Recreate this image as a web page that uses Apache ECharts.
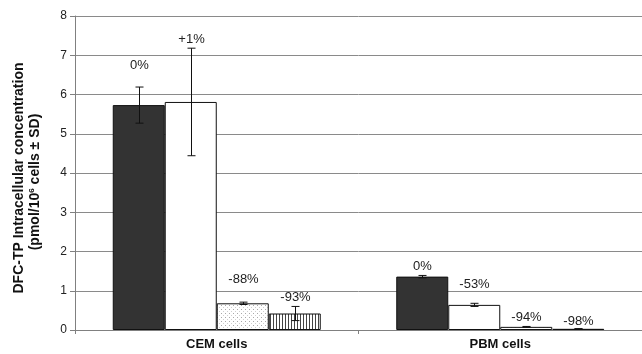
<!DOCTYPE html>
<html>
<head>
<meta charset="utf-8">
<script src="https://cdn.jsdelivr.net/npm/echarts@6/dist/echarts.min.js"></script>
<style>
  html, body { margin: 0; padding: 0; background: #fff; }
  #chart { width: 642px; height: 354px; }
</style>
</head>
<body>
<div id="chart"></div>
<script>
// Cell lines on the x axis
const categories = ['CEM cells', 'PBM cells'];

// Mean DFC-TP concentration (pmol/10^6 cells) for the four conditions
const meanSolid = [5.73, 1.36];
const meanOpen = [5.81, 0.64];
const meanDotted = [0.68, 0.08];
const meanStriped = [0.42, 0.03];

// Standard deviations
const sdSolid = [0.46, 0.03];
const sdOpen = [1.37, 0.04];
const sdDotted = [0.03, 0.01];
const sdStriped = [0.18, 0.005];

// Percent change relative to the solid bar in each cell line
const changeSolid = ['0%', '0%'];
const changeOpen = ['+1%', '-53%'];
const changeDotted = ['-88%', '-94%'];
const changeStriped = ['-93%', '-98%'];

// Y axis ticks
const yTicks = [0, 1, 2, 3, 4, 5, 6, 7, 8];

// ---- drawing ----
const BAR_W = 52;
const FONT = 'Liberation Sans, Arial, sans-serif';

function pattern(kind) {
  const c = document.createElement('canvas');
  if (kind === 'dots') {
    c.width = 4; c.height = 4;
    const g = c.getContext('2d');
    g.fillStyle = '#ffffff'; g.fillRect(0, 0, 4, 4);
    g.fillStyle = '#a8a8a8'; g.fillRect(1, 1, 1, 1);
    g.fillStyle = '#d0d0d0'; g.fillRect(3, 3, 1, 1);
  } else {
    c.width = 3; c.height = 3;
    const g = c.getContext('2d');
    g.fillStyle = '#ffffff'; g.fillRect(0, 0, 3, 3);
    g.fillStyle = '#444444'; g.fillRect(0, 0, 1, 3);
  }
  return { image: c, repeat: 'repeat' };
}

const groups = [
  { mean: meanSolid, sd: sdSolid, label: changeSolid, fill: '#333333', gap: [22, 9] },
  { mean: meanOpen, sd: sdOpen, label: changeOpen, fill: '#ffffff', gap: [9, 19] },
  { mean: meanDotted, sd: sdDotted, label: changeDotted, fill: pattern('dots'), gap: [23, 9] },
  { mean: meanStriped, sd: sdStriped, label: changeStriped, fill: pattern('stripes'), gap: [9, 7] }
];

const barSeries = groups.map(function (gr) {
  return {
    type: 'bar',
    data: gr.mean,
    barWidth: BAR_W,
    barGap: '0%',
    itemStyle: { color: gr.fill, borderColor: '#111', borderWidth: 1 },
    emphasis: { disabled: true },
    silent: true,
    z: 2
  };
});

// error bars and percent labels
const errData = [];
groups.forEach(function (gr, gi) {
  gr.mean.forEach(function (m, ci) {
    errData.push([ci, m, gr.sd[ci], gi, gr.label[ci], gr.gap[ci]]);
  });
});

const errSeries = {
  type: 'custom',
  data: errData,
  silent: true,
  z: 5,
  renderItem: function (params, api) {
    const ci = api.value(0), m = api.value(1), sd = api.value(2), gi = api.value(3);
    const label = errData[params.dataIndex][4];
    const gap = errData[params.dataIndex][5];
    const dx = (gi - 1.5) * BAR_W;
    const top = api.coord([ci, m + sd]);
    const bot = api.coord([ci, Math.max(0, m - sd)]);
    const x = Math.round(top[0] + dx) + 0.5;
    const cap = 4;
    const st = { stroke: '#111', lineWidth: 1 };
    return {
      type: 'group',
      children: [
        { type: 'line', shape: { x1: x, y1: top[1], x2: x, y2: bot[1] }, style: st },
        { type: 'line', shape: { x1: x - cap, y1: top[1], x2: x + cap, y2: top[1] }, style: st },
        { type: 'line', shape: { x1: x - cap, y1: bot[1], x2: x + cap, y2: bot[1] }, style: st },
        {
          type: 'text',
          x: x, y: top[1] - gap,
          style: {
            text: label, fill: '#222', font: '13px ' + FONT,
            align: 'center', verticalAlign: 'middle'
          }
        }
      ]
    };
  }
};

const chart = echarts.init(document.getElementById('chart'), null, { renderer: 'canvas' });
chart.setOption({
  animation: false,
  backgroundColor: '#ffffff',
  grid: { left: 75, right: -7, top: 16, bottom: 24, containLabel: false },
  xAxis: {
    type: 'category',
    data: categories,
    axisLine: { lineStyle: { color: '#808080', width: 1 } },
    axisTick: { show: true, length: 4, interval: 0, lineStyle: { color: '#808080' } },
    axisLabel: {
      color: '#111', fontSize: 13, fontWeight: 'bold', fontFamily: FONT, margin: 8
    }
  },
  yAxis: {
    type: 'value',
    min: yTicks[0],
    max: yTicks[yTicks.length - 1],
    interval: 1,
    axisLine: { show: true, lineStyle: { color: '#808080', width: 1 } },
    axisTick: { show: true, length: 5, lineStyle: { color: '#808080' } },
    axisLabel: { color: '#222', fontSize: 12, fontFamily: FONT, margin: 8 },
    splitLine: { show: true, lineStyle: { color: '#8a8a8a', width: 1 } }
  },
  graphic: [
    {
      type: 'text',
      x: 19, y: 178, rotation: Math.PI / 2,
      style: {
        text: 'DFC-TP Intracellular concentration',
        font: 'bold 14px ' + FONT, fill: '#111',
        align: 'center', verticalAlign: 'middle'
      }
    },
    {
      type: 'text',
      x: 35, y: 182, rotation: Math.PI / 2,
      style: {
        text: '(pmol/10{sup|6} cells ± SD)',
        font: 'bold 14px ' + FONT, fill: '#111',
        align: 'center', verticalAlign: 'middle',
        rich: {
          sup: { font: 'bold 8px ' + FONT, fill: '#111', padding: [0, 0, 7, 0] }
        }
      }
    }
  ],
  series: barSeries.concat([errSeries])
});
</script>
</body>
</html>
